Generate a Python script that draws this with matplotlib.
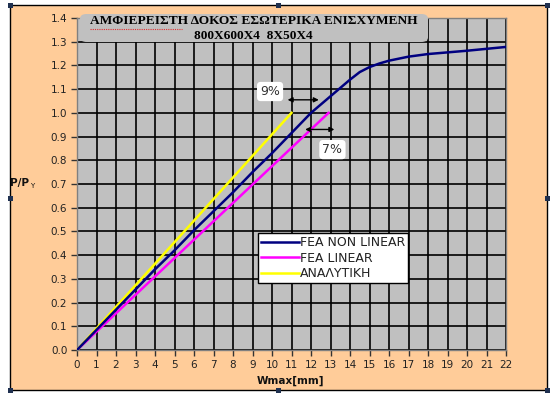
import matplotlib
matplotlib.use("Agg")
import matplotlib.pyplot as plt
from matplotlib.patches import Rectangle, FancyBboxPatch

# data
w_nonlin = [0, 1, 2, 3, 4, 5, 6, 7, 8, 9, 10, 11, 12, 13, 14, 14.5, 15, 15.5, 16, 17, 18, 19, 20, 21, 22]
p_nonlin = [0, 0.085, 0.17, 0.255, 0.34, 0.42, 0.505, 0.585, 0.665, 0.75, 0.83, 0.915, 1.0, 1.07,
            1.14, 1.172, 1.193, 1.208, 1.22, 1.237, 1.248, 1.255, 1.262, 1.27, 1.278]
w_lin = [0, 12.9]
p_lin = [0, 1.0]
w_anal = [0, 11]
p_anal = [0, 1.0]

x_ticks = list(range(0, 23))
y_ticks = [i / 10 for i in range(0, 15)]

titlos = "ΑΜΦΙΕΡΕΙΣΤΗ ΔΟΚΟΣ ΕΣΩΤΕΡΙΚΑ ΕΝΙΣΧΥΜΕΝΗ"
titlos2 = "800X600X4  8X50X4"

W, H = 558, 398
fig = plt.figure(figsize=(W / 100, H / 100), dpi=100)
fig.patch.set_facecolor("white")

def fx(px):
    return px / W

def fy(py):
    return 1 - py / H

# peach frame
fig.patches.append(Rectangle((fx(10), fy(390)), fx(537), 385 / H, transform=fig.transFigure,
                             facecolor="#FFCC99", edgecolor="black", lw=1.0, zorder=-1))

ax = fig.add_axes([fx(77), fy(350), fx(506) - fx(77), fy(18) - fy(350)])
ax.set_zorder(1)
ax.set_facecolor("#C0C0C0")
ax.set_xlim(0, 22)
ax.set_ylim(0, 1.4)
ax.set_xticks(x_ticks)
ax.set_yticks(y_ticks)
ax.set_xticklabels([str(v) for v in x_ticks])
ax.set_yticklabels(["%.1f" % v for v in y_ticks])
ax.grid(True, color="black", lw=1.2, zorder=1)
ax.tick_params(direction="out", length=4, width=1.0, color="#333333", labelsize=7.5,
               labelcolor="#222222", pad=3)
for lab in ax.get_xticklabels() + ax.get_yticklabels():
    lab.set_fontfamily("DejaVu Sans")
for s in ax.spines.values():
    s.set_color("#808080")
    s.set_linewidth(1.0)

ax.plot(w_nonlin, p_nonlin, color="#000080", lw=1.8, label="FEA NON LINEAR", zorder=4)
ax.plot(w_lin, p_lin, color="#FF00FF", lw=1.8, label="FEA LINEAR", zorder=3)
ax.plot(w_anal, p_anal, color="#FFFF00", lw=1.8, label="ΑΝΑΛΥΤΙΚΗ", zorder=3)

leg = ax.legend(loc="upper left", bbox_to_anchor=((258 - 77) / 429, (350 - 233) / 332),
                frameon=True, fancybox=False, framealpha=1, edgecolor="black",
                prop={"family": "DejaVu Sans", "size": 9}, handlelength=3.0,
                handletextpad=0.1, borderpad=0.25, labelspacing=0.2, borderaxespad=0)
leg.get_frame().set_linewidth(1.0)
for t in leg.get_texts():
    t.set_color("#222222")

# arrows and percent labels
ax.annotate("", xy=(10.8, 1.055), xytext=(12.4, 1.055),
            arrowprops=dict(arrowstyle="<|-|>", color="black", lw=1.0, mutation_scale=7,
                            shrinkA=0, shrinkB=0), zorder=6)
ax.annotate("", xy=(11.7, 0.93), xytext=(13.2, 0.93),
            arrowprops=dict(arrowstyle="<|-|>", color="black", lw=1.0, mutation_scale=7,
                            shrinkA=0, shrinkB=0), zorder=6)
box = dict(boxstyle="round,pad=0.25,rounding_size=0.3", facecolor="white", edgecolor="none")
ax.text(9.9, 1.09, "9%", fontsize=9, color="#333333", ha="center", va="center",
        bbox=box, zorder=6)
ax.text(13.1, 0.845, "7%", fontsize=9, color="#333333", ha="center", va="center",
        bbox=box, zorder=6)

# title box
fig.patches.append(FancyBboxPatch((fx(80), fy(42)), fx(428) - fx(80), 28 / H,
                                  boxstyle="round,pad=0,rounding_size=0.012",
                                  transform=fig.transFigure, facecolor="#C0C0C0",
                                  edgecolor="none", zorder=5))
fig.text(fx(254), fy(21), titlos, fontfamily="Liberation Serif", fontweight="bold",
         fontsize=9.6, ha="center", va="center", zorder=6)
fig.text(fx(253), fy(36), titlos2, fontfamily="Liberation Serif", fontweight="bold",
         fontsize=9.6, ha="center", va="center", zorder=6)
fig.lines.append(plt.Line2D([fx(90), fx(182)], [fy(29), fy(29)], transform=fig.transFigure,
                            color="#E03030", lw=0.8, ls=(0, (1, 1)), zorder=7))

# axis labels
fig.text(fx(290), fy(381), "Wmax[mm]", fontfamily="DejaVu Sans", fontweight="bold",
         fontsize=7.5, ha="center", va="center", color="#111111")
fig.text(fx(10), fy(183), "P/P", fontfamily="DejaVu Sans", fontweight="bold",
         fontsize=7.5, ha="left", va="center", color="#111111")
fig.text(fx(30), fy(186), "Y", fontfamily="DejaVu Sans", fontsize=5,
         ha="left", va="center", color="#111111")

# selection handles
handles = [(10, 5), (278, 5), (547, 5), (10, 198), (547, 198), (10, 390), (278, 390), (547, 390)]
for hx, hy in handles:
    fig.patches.append(Rectangle((fx(hx - 2.5), fy(hy + 2.5)), 5 / W, 5 / H,
                                 transform=fig.transFigure, facecolor="#1F3050",
                                 edgecolor="none", zorder=8))

fig.savefig("out.png", dpi=100)
